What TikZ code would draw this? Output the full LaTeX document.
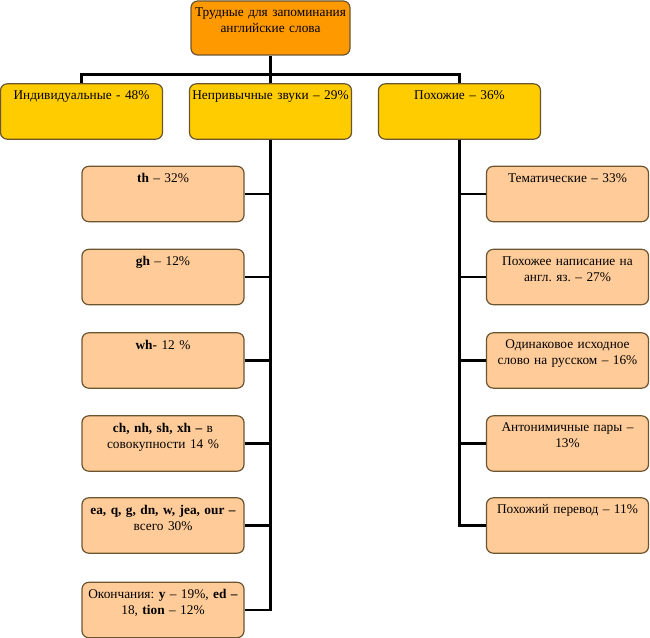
\documentclass[tikz,border=0pt]{standalone}
\usepackage{fontspec}
\setmainfont{Liberation Serif}
\usetikzlibrary{positioning}

\definecolor{rootfill}{HTML}{FF9900}
\definecolor{catfill}{HTML}{FFCC00}
\definecolor{leaffill}{HTML}{FFCC99}
\definecolor{boxline}{HTML}{6B5530}

\begin{document}
\frenchspacing
\begin{tikzpicture}[x=0.75pt,y=-0.75pt,font=\fontsize{10}{12}\selectfont,
  box/.style={draw=boxline,line width=0.9pt,rounded corners=5pt,
    minimum width=121.5pt,minimum height=41.5pt,inner sep=0pt},
  root/.style={box,fill=rootfill,minimum width=119.25pt,minimum height=40.5pt},
  cat/.style={box,fill=catfill},
  leaf/.style={box,fill=leaffill},
  txt/.style={anchor=north,inner sep=0pt,yshift=-5.5pt,text width=118pt,align=center},
  conn/.style={line width=2.2pt}]
\useasboundingbox (0,0) rectangle (650,638);
% top and the three groups
\node[root,label={[txt]north:{Трудные для запоминания\\английские слова}}] (root) at (270.5,28) {};
\node[cat,label={[txt]north:{Индивидуальные - 48\%}}] (ind) at (81.5,111.5) {};
\node[cat,label={[txt]north:{Непривычные звуки – 29\%}}] (nep) at (270.5,111.5) {};
\node[cat,label={[txt]north:{Похожие – 36\%}}] (poh) at (459.5,111.5) {};
% sounds
\node[leaf,label={[txt]north:{\textbf{th} – 32\%}}] (th) at (163,194) {};
\node[leaf,label={[txt]north:{\textbf{gh} – 12\%}}] (gh) at (163,277) {};
\node[leaf,label={[txt]north:{\textbf{wh-} 12 \%}}] (wh) at (163,360.5) {};
\node[leaf,label={[txt]north:{\textbf{ch, nh, sh, xh –} в\\совокупности 14 \%}}] (ch) at (163,443.5) {};
\node[leaf,label={[txt]north:{\textbf{ea, q, g, dn, w, jea, our –}\\всего 30\%}}] (ea) at (163,525.5) {};
\node[leaf,label={[txt]north:{Окончания: \textbf{y} – 19\%, \textbf{ed –}\\18, \textbf{tion} – 12\%}}] (ends) at (163,610) {};
% similar words
\node[leaf,label={[txt]north:{Тематические – 33\%}}] (tem) at (567.5,194) {};
\node[leaf,label={[txt]north:{Похожее написание на\\англ. яз. – 27\%}}] (nap) at (567.5,277) {};
\node[leaf,label={[txt]north:{Одинаковое исходное\\слово на русском – 16\%}}] (rus) at (567.5,360.5) {};
\node[leaf,label={[txt]north:{Антонимичные пары –\\13\%}}] (ant) at (567.5,443.5) {};
\node[leaf,label={[txt]north:{Похожий перевод – 11\%}}] (per) at (567.5,525.5) {};
% connectors
\draw[conn] (root.south) -- (nep.north);
\draw[conn] (ind.north) -- ++(0,-9) -| (poh.north);
\foreach \n in {th,gh,wh,ch,ea,ends}
  \draw[conn] (nep.south) |- (\n.east);
\foreach \n in {tem,nap,rus,ant,per}
  \draw[conn] (poh.south) |- (\n.west);
\end{tikzpicture}
\end{document}
